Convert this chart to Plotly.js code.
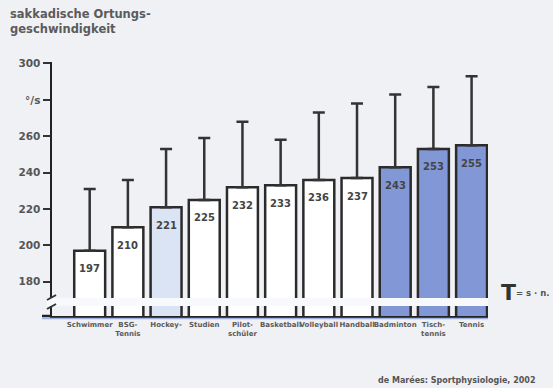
<!DOCTYPE html>
<html>
<head>
<meta charset="utf-8">
<script src="https://cdn.plot.ly/plotly-3.0.1.min.js"></script>
<style>html,body{margin:0;padding:0;background:#f0f1f5;}#chart{width:553px;height:388px;}</style>
</head>
<body>
<div id="chart"></div>
<script>
// ---- data ----
const categories = ["Schwimmer", "BSG-<br>Tennis", "Hockey-", "Studien", "Pilot-<br>schüler", "Basketball", "Volleyball", "Handball", "Badminton", "Tisch-<br>tennis", "Tennis"];
const values = [197, 210, 221, 225, 232, 233, 236, 237, 243, 253, 255];
const sdUpper = [34, 26, 32, 34, 36, 25, 37, 41, 40, 34, 38];
const barColors = ["#ffffff", "#ffffff", "#dbe4f5", "#ffffff", "#ffffff", "#ffffff", "#ffffff", "#ffffff", "#8298d6", "#8298d6", "#8298d6"];
const yTickVals = [180, 200, 220, 240, 260, 280, 300];
const yTickText = ["180", "200", "220", "240", "260", "°/s", "300"];

const idx = categories.map((c, i) => i);
const W = 436, H = 254; // plot area size in px
const px = x => (x - 52) / W;
const py = y => (316 - y) / H;

const trace = {
  type: "bar",
  x: idx,
  y: values,
  width: 0.81,
  marker: {color: barColors, line: {color: "#2b2b2b", width: 2.5}},
  error_y: {type: "data", symmetric: false, array: sdUpper, arrayminus: values.map(() => 0),
            color: "#333333", thickness: 2.5, width: 6},
  hoverinfo: "none",
  cliponaxis: false
};

const valueLabels = values.map((v, i) => ({
  x: i, y: v, xref: "x", yref: "y", xanchor: "center", yanchor: "middle", yshift: -18,
  text: String(v), showarrow: false,
  font: {family: "DejaVu Sans", size: 10, color: "#444", weight: "bold"}
}));

const layout = {
  width: 553, height: 388,
  margin: {l: 52, r: 65, t: 62, b: 72},
  paper_bgcolor: "#f0f1f5",
  plot_bgcolor: "#f0f1f5",
  showlegend: false,
  xaxis: {
    range: [-0.987, 10.43],
    tickvals: idx, ticktext: categories, tickangle: 0,
    tickfont: {family: "DejaVu Sans", size: 7, color: "#5a5a5a", weight: "bold"},
    showline: true, linecolor: "#222", linewidth: 2.5,
    ticks: "", showgrid: false, zeroline: false, fixedrange: true
  },
  yaxis: {
    range: [161.2, 300.8],
    tickvals: yTickVals, ticktext: yTickText,
    tickfont: {family: "DejaVu Sans", size: 10.5, color: "#555", weight: "bold"},
    ticks: "outside", ticklen: 7, tickwidth: 2, tickcolor: "#333",
    showline: true, linecolor: "#222", linewidth: 2.5,
    showgrid: false, zeroline: false, fixedrange: true
  },
  shapes: [
    // broken-axis band
    {type: "rect", xref: "paper", yref: "paper", x0: px(47), x1: 1, y0: py(306), y1: py(298),
     fillcolor: "#f7f9fd", line: {width: 0}, layer: "above"},
    // axis break marks
    {type: "line", xref: "paper", yref: "paper", x0: px(47), y0: py(300), x1: px(56), y1: py(295),
     line: {color: "#333", width: 2}, layer: "above"},
    {type: "line", xref: "paper", yref: "paper", x0: px(47), y0: py(309), x1: px(56), y1: py(304),
     line: {color: "#333", width: 2}, layer: "above"},
    // baseline extension to the left
    {type: "line", xref: "paper", yref: "paper", x0: px(42), y0: 0, x1: 0, y1: 0,
     line: {color: "#222", width: 2.5}, layer: "above"},
    // faint blue line under the baseline
    {type: "line", xref: "paper", yref: "paper", x0: px(42), y0: py(318.5), x1: 1, y1: py(318.5),
     line: {color: "#9fb1e0", width: 1.5}, layer: "above"}
  ],
  annotations: valueLabels.concat([
    {xref: "paper", yref: "paper", x: px(8), xanchor: "left", y: py(5), yanchor: "top", align: "left",
     text: "sakkadische Ortungs-<br>geschwindigkeit", showarrow: false,
     font: {family: "DejaVu Sans", size: 11.5, color: "#5b5b5b", weight: "bold"}},
    {xref: "paper", yref: "paper", x: px(508.5), xanchor: "center", y: py(292), yanchor: "middle",
     text: "<b>T</b>", showarrow: false,
     font: {family: "DejaVu Sans", size: 22, color: "#333"}},
    {xref: "paper", yref: "paper", x: px(514), xanchor: "left", y: py(293), yanchor: "middle",
     text: "= s · n.", showarrow: false,
     font: {family: "DejaVu Sans", size: 8.5, color: "#555", weight: "bold"}},
    {xref: "paper", yref: "paper", x: px(537), xanchor: "right", y: py(380), yanchor: "middle",
     text: "de Marées: Sportphysiologie, 2002", showarrow: false,
     font: {family: "DejaVu Sans", size: 8, color: "#555", weight: "bold"}}
  ])
};

Plotly.newPlot("chart", [trace], layout, {displayModeBar: false, staticPlot: true});
</script>
</body>
</html>
